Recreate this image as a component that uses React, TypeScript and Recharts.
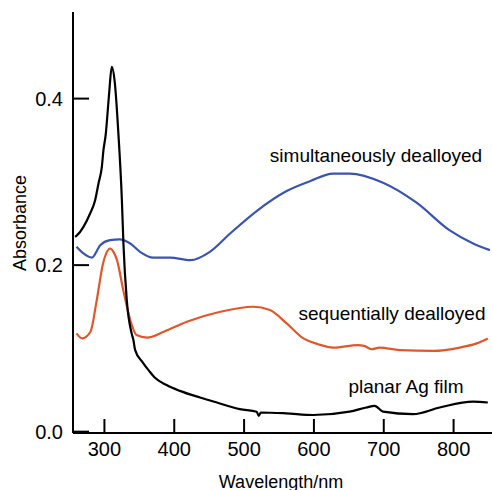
import { LineChart, Line, XAxis, YAxis } from "recharts";

// wavelength (nm) / absorbance
const planarW = [258, 261, 270, 279.5, 286.7, 291.5, 296.3, 298.6, 302, 304.8, 307.1, 310.5, 315, 320, 325, 327.2, 332, 339, 341.5, 344, 355, 364, 372, 389, 408, 437, 461, 494, 518, 521, 524, 560, 599, 651, 675, 687, 699, 742, 780, 828, 849];
const planarV = [0.234, 0.236, 0.246, 0.262, 0.278, 0.298, 0.318, 0.338, 0.358, 0.386, 0.410, 0.438, 0.418, 0.358, 0.278, 0.226, 0.158, 0.118, 0.110, 0.098, 0.083, 0.073, 0.065, 0.056, 0.049, 0.041, 0.035, 0.027, 0.024, 0.019, 0.023, 0.022, 0.020, 0.024, 0.029, 0.031, 0.024, 0.021, 0.029, 0.036, 0.035];

const simulW = [260, 270, 282, 294, 308, 322, 337, 351, 370, 394, 423, 451, 480, 518, 561, 595, 627, 651, 699, 747, 794, 828, 852];
const simulV = [0.222, 0.214, 0.209, 0.224, 0.230, 0.231, 0.226, 0.216, 0.209, 0.209, 0.206, 0.216, 0.238, 0.265, 0.289, 0.301, 0.310, 0.310, 0.299, 0.275, 0.242, 0.226, 0.218];

const seqW = [260, 268, 280, 289, 298, 303, 308, 313, 318, 327, 337, 346, 361, 385, 418, 466, 513, 537, 561, 585, 606, 628, 663, 672, 683, 694, 723, 771, 809, 833, 849];
const seqV = [0.118, 0.112, 0.120, 0.158, 0.202, 0.215, 0.220, 0.216, 0.206, 0.170, 0.134, 0.116, 0.113, 0.120, 0.132, 0.144, 0.150, 0.146, 0.130, 0.112, 0.105, 0.101, 0.104, 0.103, 0.099, 0.101, 0.098, 0.097, 0.101, 0.106, 0.112];

const xTicks = [300, 400, 500, 600, 700, 800];
const yTicks = [0, 0.2, 0.4];

const labels = [
  { text: "simultaneously dealloyed", x: 376, y: 161.5 },
  { text: "sequentially dealloyed", x: 392, y: 320 },
  { text: "planar Ag film", x: 406, y: 393 },
];

const toRows = (w: number[], v: number[]) => w.map((x, i) => ({ w: x, v: v[i] }));

const FONT = '"Liberation Sans", Helvetica, Arial, sans-serif';
const tickStyle = { fontSize: 20, fill: "#000", fontFamily: FONT };
const axisLine = { stroke: "#000", strokeWidth: 2 };

export default function App() {
  return (
    <div style={{ position: "fixed", left: 0, top: 0, width: 492, height: 490, background: "#fff", fontFamily: FONT }}>
      <LineChart width={492} height={490} margin={{ top: 12, right: 0, bottom: 0, left: 0 }}>
        <XAxis
          xAxisId="bottom"
          dataKey="w"
          type="number"
          domain={[255, 855]}
          ticks={xTicks}
          allowDataOverflow
          height={57}
          tickSize={-14}
          tickMargin={23}
          axisLine={axisLine}
          tickLine={axisLine}
          tick={tickStyle}
          label={{
            content: () => (
              <text x={281} y={488} textAnchor="middle" fontSize={18} fontFamily={FONT} fill="#000">
                Wavelength/nm
              </text>
            ),
          }}
        />
        <XAxis
          xAxisId="top"
          orientation="top"
          dataKey="w"
          type="number"
          domain={[255, 855]}
          ticks={xTicks}
          allowDataOverflow
          height={0}
          tickSize={-15}
          axisLine={axisLine}
          tickLine={axisLine}
          tickFormatter={() => ""}
        />
        <YAxis
          type="number"
          domain={[-0.0016, 0.504]}
          ticks={yTicks}
          allowDataOverflow
          width={73}
          tickSize={-16}
          tickMargin={26}
          axisLine={axisLine}
          tickLine={axisLine}
          tick={tickStyle}
          tickFormatter={(v: number) => v.toFixed(1)}
          label={{
            content: () => (
              <text x={26} y={223} transform="rotate(-90 26 223)" textAnchor="middle" fontSize={18} fontFamily={FONT} fill="#000">
                Absorbance
              </text>
            ),
          }}
        />
        <Line xAxisId="bottom" data={toRows(simulW, simulV)} dataKey="v" type="monotone" stroke="#3a55ae" strokeWidth={2.2} dot={false} isAnimationActive={false} />
        <Line xAxisId="bottom" data={toRows(seqW, seqV)} dataKey="v" type="monotone" stroke="#e2572a" strokeWidth={2.2} dot={false} isAnimationActive={false} />
        <Line xAxisId="bottom" data={toRows(planarW, planarV)} dataKey="v" type="monotone" stroke="#000" strokeWidth={2.2} dot={false} isAnimationActive={false} />
      </LineChart>
      <svg width={492} height={490} style={{ position: "absolute", left: 0, top: 0, pointerEvents: "none" }}>
        {labels.map((l) => (
          <text key={l.text} x={l.x} y={l.y} textAnchor="middle" fontSize={19} fontFamily={FONT} fill="#000">
            {l.text}
          </text>
        ))}
      </svg>
    </div>
  );
}
